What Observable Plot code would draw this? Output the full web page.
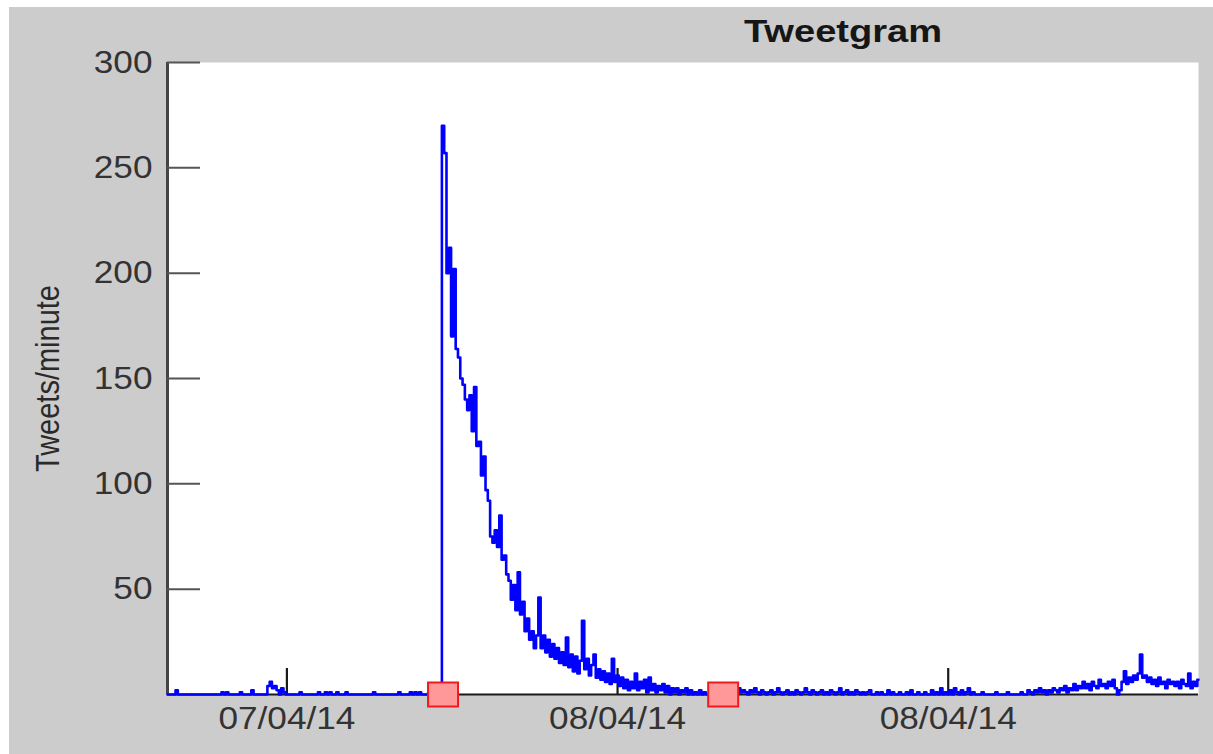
<!DOCTYPE html>
<html>
<head>
<meta charset="utf-8">
<script src="https://cdn.jsdelivr.net/npm/d3@7"></script>
<script src="https://cdn.jsdelivr.net/npm/@observablehq/plot@0.6"></script>
<style>
  html, body { margin: 0; padding: 0; background: #ffffff; }
  #panel { position: absolute; left: 9px; top: 7px; width: 1204px; height: 747px; background: #cccccc; overflow: hidden; }
  #title { position: absolute; left: 834px; top: 6px; transform: translateX(-50%) scaleX(1.19);
           font-family: "Liberation Sans", Arial, sans-serif; font-weight: bold; font-size: 32px; color: #161616; white-space: nowrap; line-height: 36px; }
  #chart { position: absolute; left: 0; top: 45px; }
</style>
</head>
<body>
<div id="panel">
  <div id="title">Tweetgram</div>
  <div id="chart"></div>
</div>
<script>
// Series start (UTC) and sampling step (minutes)
const seriesStart = Date.UTC(2014, 3, 7, 7, 40);
const seriesEnd = Date.UTC(2014, 3, 8, 21, 5);
const stepMinutes = 5;

// Tweets per minute, one value per 5-minute step (rows of 10)
const tweetsPerMinute = [
  0,0,0,0,2,0,0,0,0,0,
  0,0,0,0,0,0,0,0,0,0,
  0,0,0,0,1,0,1,0,0,0,
  0,0,1,0,0,0,0,2,0,0,
  0,0,0,0,4,6,3,4,2,0,
  3,1,0,0,0,0,0,0,1,0,
  0,0,0,0,0,0,1,0,0,1,
  0,1,0,0,1,0,0,0,1,0,
  0,0,0,0,0,0,0,0,0,0,
  1,0,0,0,0,0,0,0,0,0,
  0,1,0,0,0,0,1,0,1,0,
  1,0,0,0,1,0,0,0,1,0,
  270,257,200,212,170,202,164,160,150,147,
  140,135,142,125,146,118,120,104,113,97,
  92,75,72,78,70,85,64,66,57,54,
  45,52,40,58,38,44,30,36,26,30,
  22,28,46,22,28,20,26,18,24,17,
  22,15,20,14,27,13,19,11,18,10,
  16,35,12,17,9,14,19,8,12,7,
  11,6,10,5,17,6,9,4,8,3,
  7,2,6,3,10,2,6,3,7,1,
  8,2,5,1,4,2,5,1,4,0,
  3,1,3,0,2,1,3,0,2,0,
  1,0,2,0,1,0,0,1,0,1,
  0,1,0,2,1,3,1,2,0,3,
  1,2,1,0,2,1,3,1,0,2,
  1,0,1,2,0,1,3,1,0,1,
  2,0,1,0,2,1,0,1,3,1,
  0,2,1,0,1,2,0,1,0,2,
  1,0,1,3,0,1,2,0,1,0,
  2,1,0,1,0,1,2,0,0,1,
  0,1,0,0,2,0,1,0,0,1,
  0,0,1,0,2,0,0,1,0,0,
  1,0,0,2,0,1,0,3,0,1,
  0,2,0,3,1,0,2,0,1,3,
  0,1,0,0,0,1,0,0,0,0,
  0,1,0,0,0,0,1,0,0,0,
  0,0,1,0,0,2,1,0,2,1,
  3,1,2,0,2,1,3,2,1,3,
  2,4,1,3,2,5,2,4,3,6,
  3,5,2,6,4,3,7,4,5,3,
  6,4,7,3,0,2,6,11,5,8,
  6,9,7,10,19,8,9,6,8,5,
  7,4,8,5,6,3,7,5,6,4,
  6,3,7,5,4,10,3,6,4,7
];

// Event markers (red squares on the time axis)
const markerTimes = [Date.UTC(2014, 3, 7, 17, 40), Date.UTC(2014, 3, 8, 3, 50)];

// Axis ticks
const yTickValues = [50, 100, 150, 200, 250, 300];
const xTickTimes = [Date.UTC(2014, 3, 7, 12, 0), Date.UTC(2014, 3, 8, 0, 0), Date.UTC(2014, 3, 8, 12, 0)];
const yLabel = "Tweets/minute";

const series = tweetsPerMinute.map((v, i) => ({t: new Date(seriesStart + i * stepMinutes * 60000), v}));
const markers = markerTimes.map(t => ({t: new Date(t), v: 0}));
const xTicks = xTickTimes.map(t => new Date(t));

const W = 1204, H = 702, mL = 158, mR = 15, mT = 10, mB = 60;
const plotW = W - mL - mR, plotH = H - mT - mB;

const rectSymbol = {draw(ctx) { ctx.rect(-15, -12, 30, 24); }};

const chart = Plot.plot({
  width: W, height: H,
  marginLeft: mL, marginRight: mR, marginTop: mT, marginBottom: mB,
  style: {background: "#cccccc", fontFamily: "'Liberation Sans', Arial, sans-serif", color: "#333333", overflow: "visible"},
  x: {type: "utc", domain: [new Date(seriesStart), new Date(seriesEnd)]},
  y: {domain: [0, 300]},
  marks: [
    Plot.frame({fill: "white", stroke: null}),
    Plot.ruleY([0], {stroke: "#1a1a1a", strokeWidth: 2}),
    Plot.ruleX([new Date(seriesStart)], {stroke: "#444444", strokeWidth: 3}),
    Plot.ruleY(yTickValues, {insetRight: plotW - 33, stroke: "#555555", strokeWidth: 2}),
    Plot.ruleX(xTicks, {insetTop: plotH - 26, stroke: "#1a1a1a", strokeWidth: 2.2}),
    Plot.axisY(yTickValues, {tickSize: 0, tickPadding: 15, fontSize: 32, label: null, fill: "#333333"}),
    Plot.axisX(xTicks, {tickSize: 0, tickPadding: 12, fontSize: 32, label: null, fill: "#333333",
                        tickFormat: d3.utcFormat("%d/%m/%y")}),
    Plot.text([yLabel], {text: d => d, frameAnchor: "left", textAnchor: "middle", rotate: -90, dx: -119, fontSize: 29, fill: "#2a2a2a"}),
    Plot.line(series, {x: "t", y: "v", curve: "step", stroke: "#0000ff", strokeWidth: 2.6}),
    Plot.dot(markers, {x: "t", y: "v", symbol: rectSymbol, fill: "#ff9999", stroke: "#ee1c1c", strokeWidth: 2})
  ]
});

// widen glyphs horizontally as in the reference rendering
chart.querySelectorAll("text").forEach(t => {
  const tr = t.getAttribute("transform");
  if (!tr) return;
  if (tr.includes("rotate")) t.setAttribute("transform", tr + " scale(1,1.12)");
  else t.setAttribute("transform", tr + " scale(1.1,1)");
});

document.getElementById("chart").appendChild(chart);
</script>
</body>
</html>
